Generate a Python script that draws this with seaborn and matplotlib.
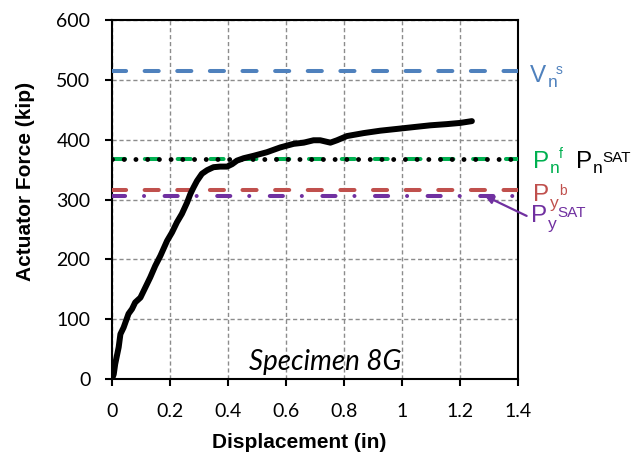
import matplotlib
matplotlib.use("Agg")
import matplotlib.pyplot as plt
import pandas as pd
import seaborn as sns

# Measured actuator force vs. displacement, specimen 8G
displacement = [0.000, 0.006, 0.011, 0.023, 0.029, 0.040, 0.057, 0.069, 0.080, 0.098,
                0.115, 0.132, 0.149, 0.167, 0.190, 0.207, 0.224, 0.241, 0.259, 0.270,
                0.281, 0.293, 0.310, 0.328, 0.350, 0.373, 0.397, 0.414, 0.431, 0.454,
                0.488, 0.534, 0.580, 0.626, 0.661, 0.695, 0.718, 0.753, 0.776, 0.810,
                0.868, 0.925, 0.983, 1.040, 1.098, 1.155, 1.201, 1.241]
force = [0, 8, 25, 53, 75, 86, 109, 117, 128, 136,
         153, 170, 189, 206, 231, 245, 262, 276, 295, 309,
         320, 331, 343, 349, 354, 355, 355, 359, 365, 369,
         373, 379, 387, 393, 395, 399, 399, 395, 399, 406,
         411, 415, 418, 421, 424, 426, 428, 431]

# Predicted strengths (kip)
Vn_s = 515
Pn_f = 368
Pn_SAT = 368
Py_b = 316
Py_SAT = 306

x_ticks = [0, 0.2, 0.4, 0.6, 0.8, 1.0, 1.2, 1.4]
y_ticks = [0, 100, 200, 300, 400, 500, 600]

BLUE = "#4F81BD"
GREEN = "#00B050"
RED = "#C0504D"
PURPLE = "#7030A0"

sns.set_theme(style="white")
plt.rcParams["font.family"] = ["Lato", "DejaVu Sans"]

fig = plt.figure(figsize=(6.33, 4.55), dpi=100)
ax = fig.add_axes([112 / 633, 76 / 455, 406 / 633, 359 / 455])

df = pd.DataFrame({"Displacement": displacement, "Force": force})

# reference strength levels
ax.axhline(Vn_s, color=BLUE, lw=2.9, ls=(0, (3.5, 4.6)), dash_capstyle="round", zorder=3)
ax.axhline(Pn_f, color=GREEN, lw=2.9, ls=(0, (3.25, 4.9)), dash_capstyle="round", zorder=3)
ax.axhline(Pn_SAT, color="black", lw=3.5, ls=(0, (0.01, 2.4)), dash_capstyle="round", zorder=3.1)
ax.axhline(Py_b, color=RED, lw=2.9, ls=(0, (3.5, 4.6)), dash_capstyle="round", zorder=3)
ax.axhline(Py_SAT, color=PURPLE, lw=2.9, ls=(0, (3.25, 4.7, 0.01, 5.1)),
           dash_capstyle="round", zorder=3)

sns.lineplot(data=df, x="Displacement", y="Force", sort=False, color="black",
             lw=4.3, ax=ax, zorder=4, solid_capstyle="round", solid_joinstyle="round")

ax.set_xlim(0, 1.4)
ax.set_ylim(0, 600)
ax.set_xticks(x_ticks)
ax.set_yticks(y_ticks)
ax.set_xticklabels([f"{v:g}" for v in x_ticks])
ax.set_yticklabels([f"{v:g}" for v in y_ticks])

ax.grid(True, color="#8c8c8c", lw=1.0, ls=(0, (3, 2)))
for sp in ax.spines.values():
    sp.set_visible(True)
    sp.set_color("black")
    sp.set_linewidth(1.5)

ax.tick_params(axis="both", direction="out", length=5, width=1.5, color="black",
               labelsize=14, labelcolor="black")
ax.tick_params(axis="x", pad=12.5)
ax.tick_params(axis="y", pad=10.5)
ax.tick_params(bottom=True, left=True)

ax.set_xlabel("Displacement (in)", fontsize=15, fontweight="bold",
              family="Liberation Sans", color="black")
ax.set_ylabel("Actuator Force (kip)", fontsize=15, fontweight="bold",
              family="Liberation Sans", color="black")
ax.xaxis.set_label_coords(0.462, -0.150)
ax.yaxis.set_label_coords(-0.19, 0.549)

ax.text(0.734, 15, "Specimen 8G", ha="center", va="baseline", fontsize=20,
        style="italic", family="Lato", color="black")

PX = 0.72  # points per pixel at 100 dpi
ytrans = ax.get_yaxis_transform()


def level_label(level, parts, color):
    for text, dx, dy, size in parts:
        ax.annotate(text, xy=(1, level), xycoords=ytrans,
                    xytext=(dx * PX, dy * PX), textcoords="offset points",
                    ha="left", va="baseline", fontsize=size, color=color,
                    family="Liberation Sans", annotation_clip=False)


level_label(Vn_s, [("V", 12, -11, 17.5), ("n", 29.5, -16.6, 12.5), ("s", 38, -3.3, 10)], BLUE)
level_label(Pn_f, [("P", 15, -9.3, 17.5), ("n", 32, -14, 12.5), ("f", 41, 1, 10)], GREEN)
level_label(Pn_SAT, [("P", 58, -9.3, 17.5), ("n", 75, -14, 12.5), ("SAT", 84, -3, 11)], "black")
level_label(Py_b, [("P", 15, -10.7, 17.5), ("y", 32, -17.7, 12.5), ("b", 41, -4.7, 10)], RED)
level_label(Py_SAT, [("P", 13, -26, 17.5), ("y", 30, -33, 12.5), ("SAT", 39.5, -21, 11)], PURPLE)

ax.annotate("", xy=(1.286, Py_SAT), xycoords="data",
            xytext=(41.7 * PX, -20 * PX), textcoords="offset points",
            arrowprops=dict(arrowstyle="-|>", color=PURPLE, lw=1.6,
                            mutation_scale=12, shrinkA=0, shrinkB=0),
            annotation_clip=False)

fig.savefig("out.png", dpi=100)
